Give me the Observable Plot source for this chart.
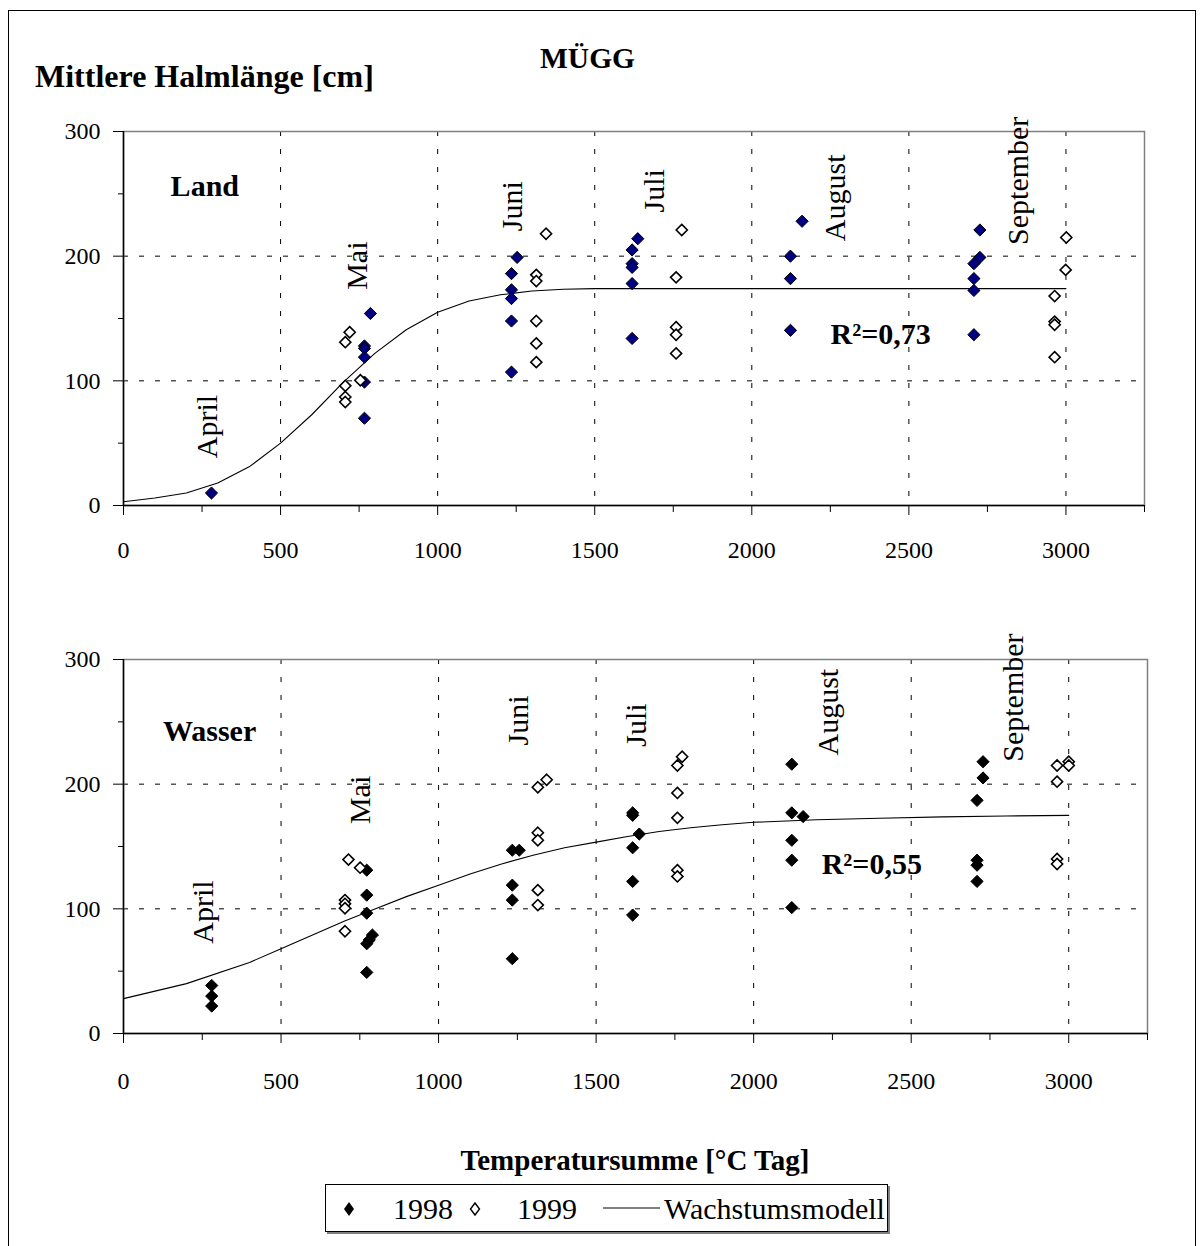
<!DOCTYPE html>
<html><head><meta charset="utf-8">
<script src="https://cdn.jsdelivr.net/npm/d3@7"></script>
<script src="https://cdn.jsdelivr.net/npm/@observablehq/plot@0.6"></script>
<style>
body{margin:0;background:#fff;}
#page{position:relative;width:1203px;height:1246px;overflow:hidden;background:#fff;font-family:"Liberation Serif","Times New Roman",serif;color:#000;}
.abs{position:absolute;white-space:nowrap;line-height:1;}
svg.plot{position:absolute;left:0;overflow:visible;}
</style></head><body><div id="page"></div>
<script>
// ---------- data ----------
const majorX = [0, 500, 1000, 1500, 2000, 2500, 3000];
const minorX = [250, 750, 1250, 1750, 2250, 2750, 3250];
const gridXTicks = [500, 1000, 1500, 2000, 2500, 3000];
const majorY = [0, 100, 200, 300];
const minorY = [50, 150, 250];
const gridYTicks = [100, 200];

const months = ["April", "Mai", "Juni", "Juli", "August", "September"];
const landMonthX = [266, 743, 1237, 1690, 2266, 2850];
const landMonthY = [38, 173, 220, 235, 212, 209];
const waterMonthX = [254, 751, 1253, 1629, 2237, 2824];
const waterMonthY = [72, 168, 231, 230, 223, 218];

// Land (oben)
const land98X = [280, 786, 767, 767, 767, 767, 767, 1253, 1235, 1235, 1235, 1235, 1235, 1637, 1619, 1619, 1619, 1619, 1619, 2160, 2123, 2123, 2123, 2726, 2726, 2707, 2707, 2707, 2707];
const land98Y = [10, 154, 128, 126, 119, 99, 70, 199, 186, 173, 166, 148, 107, 214, 205, 194, 191, 178, 134, 228, 200, 182, 140.5, 221, 199, 194, 182, 172.5, 137];
const land99X = [720, 706, 754, 706, 706, 706, 1345, 1314, 1314, 1314, 1314, 1314, 1777, 1759, 1759, 1759, 1759, 3001, 2999, 2964, 2964, 2964, 2964];
const land99Y = [139, 131, 100.5, 96, 87, 83, 218, 185, 180, 148, 130, 115, 221, 183, 143, 137, 122, 215, 189, 168, 147.5, 145, 119];
const landModelX = [0, 100, 200, 300, 400, 500, 600, 700, 800, 900, 1000, 1100, 1200, 1300, 1400, 1500, 3000];
const landModelY = [3, 6, 10, 18, 31, 50, 73, 99, 122, 141, 155, 164, 169, 172, 173.5, 174, 174];

// Wasser (unten)
const water98X = [280, 280, 280, 772, 772, 772, 790, 780, 772, 772, 1234, 1256, 1234, 1234, 1234, 1616, 1616, 1637, 1616, 1616, 1616, 2121, 2121, 2157, 2121, 2121, 2121, 2728, 2728, 2709, 2709, 2709, 2709];
const water98Y = [38.5, 30, 22, 131, 111, 96.5, 79, 75, 72, 49, 147, 147, 119, 107, 60, 177, 175, 160, 149, 122, 95, 216, 177, 174, 155, 139, 101, 218, 205, 187, 139, 135, 122];
const water99X = [714, 751, 703, 703, 703, 703, 1343, 1315, 1315, 1315, 1315, 1315, 1773, 1758, 1758, 1758, 1758, 1758, 3000, 3000, 2963, 2963, 2963, 2963];
const water99Y = [139.5, 133, 107, 104, 100.5, 82, 203.5, 197.5, 161, 155, 115, 103, 222, 215, 193, 173, 131, 126, 218, 215, 215, 202, 140, 136];
const waterModelX = [0, 200, 400, 500, 600, 700, 800, 900, 1000, 1100, 1200, 1300, 1400, 1500, 1600, 1700, 1800, 1900, 2000, 2200, 2400, 2600, 2800, 3000];
const waterModelY = [28, 40, 57, 68, 79, 90, 100, 110, 119, 128, 136, 143, 149, 153.5, 158, 162, 165, 167.5, 169.4, 171.5, 172.7, 173.8, 174.5, 175];

const zip = (xs, ys) => xs.map((x, i) => ({x, y: ys[i]}));

// ---------- panel ----------
const FONT = '"Liberation Serif","Times New Roman",serif';
function panel(o) {
  const pts98 = zip(o.x98, o.y98), pts99 = zip(o.x99, o.y99), model = zip(o.mx, o.my);
  const mlab = months.map((m, i) => ({m, x: o.monthX[i], y: o.monthY[i]}));
  const svg = Plot.plot({
    width: 1203, height: o.height,
    marginLeft: 123, marginRight: o.mr, marginTop: o.mt, marginBottom: o.mb,
    style: {fontFamily: FONT, fontSize: "24px", background: "transparent", overflow: "visible"},
    x: {domain: [0, 3250]},
    y: {domain: [0, 300]},
    marks: [
      Plot.gridX({ticks: gridXTicks, stroke: "#000", strokeOpacity: 1, strokeWidth: 1, strokeDasharray: "5,13"}),
      Plot.gridY({ticks: gridYTicks, stroke: "#000", strokeOpacity: 1, strokeWidth: 1, strokeDasharray: "5,11"}),
      Plot.frame({stroke: "#808080", strokeWidth: 1.5}),
      Plot.ruleX([0], {stroke: "#000", strokeWidth: 1.5}),
      Plot.ruleY([0], {stroke: "#000", strokeWidth: 1.5}),
      Plot.axisX({ticks: majorX, tickSize: 10, tickPadding: o.xpad, tickFormat: d => String(d), fontSize: 24, label: null}),
      Plot.axisX({ticks: minorX, tickSize: 7, tickFormat: () => "", label: null}),
      Plot.axisY({ticks: majorY, tickSize: 10, tickPadding: 13, tickFormat: d => String(d), fontSize: 24, label: null}),
      Plot.axisY({ticks: minorY, tickSize: 5, tickFormat: () => "", label: null}),
      Plot.line(model, {x: "x", y: "y", stroke: "#000", strokeWidth: 1.1}),
      Plot.dot(pts98, {x: "x", y: "y", symbol: "diamond2", r: 5.5, fill: o.fill98, stroke: "#000", strokeWidth: 1}),
      Plot.dot(pts99, {x: "x", y: "y", symbol: "diamond2", r: 5.0, fill: "#fff", stroke: "#000", strokeWidth: 1.6}),
      Plot.text(mlab, {x: "x", y: "y", text: "m", rotate: -90, textAnchor: "start", fontSize: 30, fontFamily: FONT, fill: "#000"}),
      Plot.text([o.name], {x: o.nameX, y: o.nameY, text: d => d, textAnchor: "start", fontSize: 30, fontWeight: "bold", fontFamily: FONT}),
      Plot.text([o.r2], {x: o.r2X, y: o.r2Y, text: d => d, textAnchor: "middle", fontSize: 30, fontWeight: "bold", fontFamily: FONT})
    ]
  });
  svg.classList.add("plot");
  svg.style.top = o.top + "px";
  return svg;
}

const page = document.getElementById("page");

const topPanel = panel({x98: land98X, y98: land98Y, x99: land99X, y99: land99Y, mx: landModelX, my: landModelY,
  monthX: landMonthX, monthY: landMonthY, name: "Land", nameX: 150, nameY: 256, r2: "R²=0,73", r2X: 2410, r2Y: 137,
  fill98: "#000080", height: 600, mt: 131, mb: 95, mr: 59, top: 0, xpad: 25});
const botPanel = panel({x98: water98X, y98: water98Y, x99: water99X, y99: water99Y, mx: waterModelX, my: waterModelY,
  monthX: waterMonthX, monthY: waterMonthY, name: "Wasser", nameX: 125, nameY: 242, r2: "R²=0,55", r2X: 2375, r2Y: 136,
  fill98: "#000", height: 646, mt: 59, mb: 213, mr: 56, top: 600, xpad: 28});
page.appendChild(topPanel);
page.appendChild(botPanel);

// outer border
const border = document.createElement("div");
border.className = "abs";
Object.assign(border.style, {left: "8px", top: "10px", width: "1186px", height: "1300px", border: "1.5px solid #000"});
page.appendChild(border);

function addText(txt, css) {
  const d = document.createElement("div");
  d.className = "abs";
  d.textContent = txt;
  Object.assign(d.style, css);
  page.appendChild(d);
  return d;
}
addText("Mittlere Halmlänge [cm]", {left: "35px", top: "60px", fontSize: "32px", fontWeight: "bold"});
addText("MÜGG", {left: "540px", top: "44px", fontSize: "29.5px", fontWeight: "bold"});
addText("Temperatursumme [°C Tag]", {left: "68px", width: "1134px", textAlign: "center", top: "1146px", fontSize: "29px", fontWeight: "bold"});

// legend
const legendYears = ["1998", "1999"];
const legendModel = "Wachstumsmodell";
const leg = document.createElement("div");
leg.className = "abs";
Object.assign(leg.style, {left: "325px", top: "1184px", width: "561px", height: "46px", border: "1.5px solid #000", boxShadow: "2px 2px 0 #808080", background: "#fff"});
page.appendChild(leg);
const ls = d3.select(leg).append("svg").attr("width", 561).attr("height", 46).style("position", "absolute").style("left", 0).style("top", 0);
const dia = (cx, cy, rx, ry) => `M${cx},${cy - ry}L${cx + rx},${cy}L${cx},${cy + ry}L${cx - rx},${cy}Z`;
ls.append("path").attr("d", dia(23, 24, 5, 7)).attr("fill", "#000");
ls.append("text").attr("x", 67).attr("y", 34).text(legendYears[0]).attr("font-size", 30).attr("font-family", FONT);
ls.append("path").attr("d", dia(149, 24, 4.5, 6)).attr("fill", "#fff").attr("stroke", "#000").attr("stroke-width", 1.4);
ls.append("text").attr("x", 191).attr("y", 34).text(legendYears[1]).attr("font-size", 30).attr("font-family", FONT);
ls.append("line").attr("x1", 277).attr("x2", 334).attr("y1", 23).attr("y2", 23).attr("stroke", "#000").attr("stroke-width", 1.2);
ls.append("text").attr("x", 338).attr("y", 34).text(legendModel).attr("font-size", 30).attr("font-family", FONT);
</script></body></html>
